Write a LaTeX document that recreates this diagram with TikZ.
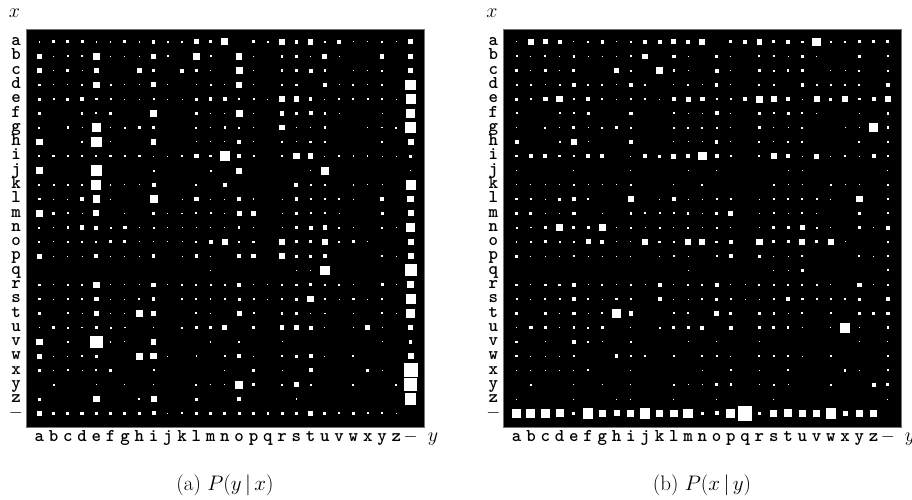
\RequirePackage{fix-cm}
\documentclass[tikz,border=0pt]{standalone}
\usepackage{fontspec}
\newcommand\hinrow[3]{%
  \foreach \v [count=\c from 0] in {#3}{%
    \ifdim\v pt>0pt
      \fill[white] ({#1+\c*14.28-\v/2},{42+#2*14.28-\v/2}) rectangle ++(\v,\v);
    \fi}}
\begin{document}
\begin{tikzpicture}[x=1pt,y=-1pt,
  lbl/.style={font=\ttfamily\bfseries\fontsize{18}{18}\selectfont, inner sep=0pt, anchor=base},
  axl/.style={font=\fontsize{20}{20}\selectfont, inner sep=0pt},
  captxt/.style={font=\fontsize{21}{21}\selectfont, inner sep=0pt},
  panel/.style={fill=black, draw=black!55, line width=0.6pt}]
\useasboundingbox (0,0) rectangle (912,500);
\fill[white] (0,0) rectangle (912,500);
% panels
\path[panel] (26,29.3) rectangle (424,427.3);
\path[panel] (503.4,29.3) rectangle (901.4,427.3);
% labels
\foreach \p/\off in {A/0,B/477.4}{
  \foreach \l [count=\i from 0] in {a,...,z}{
    \node[lbl] (\p row\l) at ({16+\off},{42+\i*14.28+3.7}) {\l};
    \node[lbl] (\p col\l) at ({39.3+\off+\i*14.28},441.5) {\l};
  }
  \node[lbl] (\p rowdash) at ({16+\off},{42+26*14.28+4.3}) {$-$};
  \node[lbl] (\p coldash) at ({39.3+\off+26*14.28},441.5) {$-$};
}
\node[axl] (xA) at (14.5,13.5) {$x$};
\node[axl] (xB) at (492,13.5) {$x$};
\node[axl,anchor=base] (yA) at (433,441.5) {$y$};
\node[axl,anchor=base] (yB) at (910,441.5) {$y$};
\node[captxt] (capA) at (225,485) {(a) $P(y\,|\,x)$};
\node[captxt] (capB) at (702,485) {(b) $P(x\,|\,y)$};
% panel (a): P(y|x)
\hinrow{39.3}{0}{1.5,3,3,3,1.5,1.5,3,1.5,3.5,1.5,1.5,5,3,7,0,3,1.5,5.5,3.5,5.5,2.5,3.5,1,1,2.5,1,5}
\hinrow{39.3}{1}{4.5,1.5,2,2,6.5,1,1,1,4.5,2,0,7.5,2,0,6.5,1,0,2.5,2.5,1.5,5,1,0,0,4.5,0,5}
\hinrow{39.3}{2}{5,1,3,1,5.5,0,0,5,3,0,4,2.5,1,0,7,1,0,2.5,2.5,4,2.5,0,1,1,2,0,5}
\hinrow{39.3}{3}{2.5,1,1,2,6.5,2,1,1,5,1,0,1,2,1,6.5,1,0,2,2.5,0,3.5,1,2,1,2,0,10.5}
\hinrow{39.3}{4}{3,2,3,4.5,2.5,2,1,1,2,1,1,3,3.5,3.5,2,2,1,5.5,5.5,3.5,1,2,2,2,2,1,10}
\hinrow{39.3}{5}{3,0,0,2.5,2,2.5,0,0,6.5,0,0,2.5,1,1,7,1,0,4.5,3.5,4,2.5,1,0,0,1,0,8.5}
\hinrow{39.3}{6}{2,0,2.5,1,8.5,1,2,3.5,3,0,0,2,1.5,2.5,2,1,0,5.5,1,1,2.5,0,0,1,1.5,2,10.5}
\hinrow{39.3}{7}{6.5,0,0,2,10.5,1,0,0,5.5,0,0,1,1,1,4.5,1,0,2,1,2.5,2,0,0,0,2.5,0,6}
\hinrow{39.3}{8}{2,2.5,2,2,2,2.5,2.5,2.5,1,1,2,4.5,2.5,10,4.5,2,0,2.5,6.5,5.5,1,1.5,1.5,1.5,1,1,3}
\hinrow{39.3}{9}{7,0,0,0,10.5,0,0,0,2,0,0,0,2,0,6,0,0,0,0,1.5,8,0,0,0,0,0,1.5}
\hinrow{39.3}{10}{2,2,2,1.5,10,1.5,1,1,4,0,0,2,0,3.5,0,0,0,0,4,2,2,0,1.5,1,1,0,10}
\hinrow{39.3}{11}{2.5,1,1,3.5,7.5,1,0,0,8,0,1,4.5,1,1,4,1.5,0,1,3.5,2,2,1.5,1,0,4,0,6.5}
\hinrow{39.3}{12}{7,3,2,1,6,0,1,0,3.5,1,1.5,2,2,1,5,5,0,1,2.5,2,2,1,0,0,3,0,6}
\hinrow{39.3}{13}{2,1,2.5,4.5,4,2,3.5,1,2,1,1,1,1,1,2.5,1,0,1,2.5,4,4.5,2,1,0,2,1,9.5}
\hinrow{39.3}{14}{2,1,2.5,2,2,3,3,1,1,1,1,2,4,6,2.5,2.5,0,6.5,3,3,5.5,2,3,1,0,0,6}
\hinrow{39.3}{15}{5,1,1,1,4,1,1,1,3.5,0,1,3.5,1,0,4.5,4.5,0,6.5,3,3,4,0,0,0,2.5,1,6}
\hinrow{39.3}{16}{0,0,0,0,0,0,0,0,0,0,0,0,1,0,0,0,0,0,1.5,1,9.5,0,0,0,0,0,12}
\hinrow{39.3}{17}{2.5,1,2,2,6.5,1,1,1,4.5,1,2,2,2,2.5,4.5,1,1,2,2.5,3,2,2,1,0,3,1,7}
\hinrow{39.3}{18}{2.5,1,2,2,4.5,1,1,2,3.5,0,2,2,1.5,2,3,2,1,2.5,3,6.5,2.5,1,2.5,1,2,0,10}
\hinrow{39.3}{19}{3,0,2,1,5,1,1,7.5,5,0,0,2,1.5,0,5,2,0,2.5,2.5,1.5,1.5,0,1.5,0,2,1,8.5}
\hinrow{39.3}{20}{1.5,3,2,1.5,3,2,1.5,0,1,0,2,3,3.5,5,0,3,0,4.5,5,4,1,0,1,5,1,0,5}
\hinrow{39.3}{21}{6.5,0,2,0,12.5,1.5,1,0,5.5,0,0,0,1.5,0,2.5,0,0,1,0,0,0,0,0,0,1,0,3.5}
\hinrow{39.3}{22}{5,1,1,1.5,3,0,0,7,6.5,1,0,1.5,0,2,4,1,0,2,3,4,1,0,2,0,0,0,6}
\hinrow{39.3}{23}{2.5,1,2,1,2,2.5,0,0,2,0,0,0,0,1,0,2.5,0,1,0,4,0,0,0,2.5,1,0,14}
\hinrow{39.3}{24}{0,2,0,0,1.5,0,1,0,1.5,0,0,2,1.5,1,8,2.5,0,2,5,2,0,0,2,0,0,2,13}
\hinrow{39.3}{25}{3,0,0,0,6.5,0,0,2,6,0,0,3,0,0,4.5,0,0,0,1.5,0,0,0,0,0,0,0,11.5}
\hinrow{39.3}{26}{5,3,3,3.5,3,2.5,3,2.5,4,1,2,3,3,3,3,2.5,2.5,3,3,5,3,2,3,2,2,1,0}
% panel (b): P(x|y)
\hinrow{516.7}{0}{1,6,5,4,1,2,3.5,1,2.5,3.5,4,5,4.5,6,0,3,4,5.5,3,4,2.5,8.5,2,2,3,3,3}
\hinrow{516.7}{1}{2,1,2,1,2.5,1,1,1,2,5.5,0,3.5,1,0,2.5,1,0,2,2,1,2.5,1,0,0,3.5,0,2}
\hinrow{516.7}{2}{3.5,1,2.5,1,3,0,0,5,2,0,7.5,2.5,1,0,4,1,0,2.5,2,2.5,2.5,0,1,1,2,0,2}
\hinrow{516.7}{3}{2,2,1,2,3.5,2,2,1,3.5,2,0,1,2,1,3.5,1,0,2,2,0,3.5,2,2,2,2,0,3.5}
\hinrow{516.7}{4}{3,2,4.5,6.5,2.5,4,2,1,2,2,1,4.5,5,4.5,2,2,3.5,7,6.5,4,1,6,3,6,2.5,4,6.5}
\hinrow{516.7}{5}{2,0,0,2,2,3,0,0,3.5,0,0,2,1,1,4,1,0,3,2,3,2,1,0,0,1,0,2.5}
\hinrow{516.7}{6}{1,0,2,1,3,1,2,3,2,0,0,2,2,2,2,1,0,3,1,1,2,0,0,1,1,9.5,2.5}
\hinrow{516.7}{7}{4,0,0,2,6.5,1,0,0,3.5,0,0,1,1,1,3.5,1,0,2,1,2,2,0,0,0,2,0,2.5}
\hinrow{516.7}{8}{2.5,4,4,2.5,1.5,4,4,0,1,3.5,3,5,3.5,8.5,4,2.5,0,2,5.5,4,1,5,1,2.5,1,4,2.5}
\hinrow{516.7}{9}{1,0,0,0,1,0,0,0,1,0,0,0,1,0,1,0,0,0,0,1,1,0,0,0,0,0,1}
\hinrow{516.7}{10}{1,1,1,1,2,1,1,1,2,0,0,1,0,2,0,0,0,0,2,1,1,0,1.5,1,1,0,2}
\hinrow{516.7}{11}{2.5,2,1,3,3.5,2.5,0,0,5.5,0,1,4,1,1,2,2,0,1,2,2,2,2,1,0,6.5,0,2}
\hinrow{516.7}{12}{3.5,3,1,1,3.5,0,1,0,2.5,2,2,2,2.5,1,2.5,5,0,1,2,1,2,1,0,0,3,0,2}
\hinrow{516.7}{13}{2,1.5,3.5,6.5,3,3,7.5,1,2,1,2,1,2,1,2,1,0,1,3,3,5,2,1,0,2.5,1,4}
\hinrow{516.7}{14}{1.5,2.5,3,2,1.5,5,4,1,1,6.5,2.5,2.5,6,6,2.5,4,0,6.5,3,3,6,3,6,1,0,0,2.5}
\hinrow{516.7}{15}{3,1,1,1,2,1,1,1,1,0,1,2,1,0,2,3.5,0,3,1,1,2,0,0,0,2,1,2}
\hinrow{516.7}{16}{0,0,0,0,0,0,0,0,0,0,0,0,1,0,0,0,0,0,1,1,2.5,0,0,0,0,0,2}
\hinrow{516.7}{17}{2.5,1,2.5,2.5,4,1,2,1,2,1,4,1,2,2,4,1,1,2,2.5,2,2,2,1,0,4.5,1,2.5}
\hinrow{516.7}{18}{2,1,2,2,3.5,2,1,2.5,2.5,0,4,1,1,2,3,2,1,1,2.5,4.5,2.5,2,2.5,2,3,0,4.5}
\hinrow{516.7}{19}{3,0,2.5,1,3.5,1,2,9.5,4.5,0,0,2,2,0,4.5,3,0,2.5,2.5,1,2,0,2,0,3,3,3.5}
\hinrow{516.7}{20}{1,3.5,2.5,1,2.5,2,2.5,0,1,0,2,3,3,4,0,4,0,3,3,2.5,1,0,1,10,1,0,2.5}
\hinrow{516.7}{21}{2.5,0,1,0,3.5,2,1,0,2,0,0,0,1,0,1,0,0,1,0,0,0,0,0,0,1,0,1}
\hinrow{516.7}{22}{2.5,1,1,1,2,0,0,3.5,2.5,2,0,2,0,2,2,1,0,2,2,2,1,0,2.5,0,0,0,2}
\hinrow{516.7}{23}{1,1,1,1,1,2,0,0,1,0,0,0,0,1,0,2,0,1,0,2,0,0,0,2.5,1,0,2}
\hinrow{516.7}{24}{0,2,0,0,1,0,1,0,1,0,0,2,1,1,3,2.5,0,1,2,1,0,0,2,0,0,4,3}
\hinrow{516.7}{25}{1,0,0,0,1,0,0,1,1,0,0,1,0,0,1,0,0,0,1,0,0,0,0,0,0,0,1}
\hinrow{516.7}{26}{8.5,9,8.5,8,3,10.5,7,6,7,10.5,7.5,7.5,9.5,2.5,4,9,14.5,3,7,8,7,7.5,10.5,5,7,7,0}
\end{tikzpicture}
\end{document}
